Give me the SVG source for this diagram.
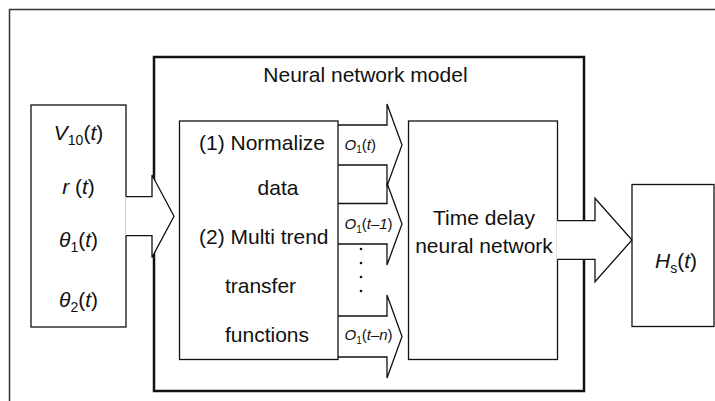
<svg xmlns="http://www.w3.org/2000/svg" width="715" height="401" viewBox="0 0 715 401">
<style>
.ln{fill:none;stroke:#111;stroke-width:1.3;stroke-linejoin:miter}
.box{fill:#fff;stroke:#111;stroke-width:1.3}
.thick{fill:#fff;stroke:#111;stroke-width:2.5}
.fillw{fill:#fff;stroke:none}
.t{font-family:"Liberation Sans",Arial,sans-serif;font-size:21px;fill:#111}
.lbl{font-size:15px}
.it{font-style:italic}
.dot{fill:#111}
</style>
<rect width="715" height="401" fill="#fff"/>
<g id="frame">
<path d="M9.5,401 V9.5 H715" fill="none" stroke="#333" stroke-width="1.5"/>
</g>
<g id="node-nn-model">
<rect class="thick" x="154" y="57" width="430" height="334"/>
<text class="t" x="263.3" y="81.5">Neural network model</text>
</g>
<g id="node-inputs">
<rect class="box" x="31" y="105" width="95" height="222"/>
<text class="t" x="78.5" y="140" text-anchor="middle"><tspan class="it">V</tspan><tspan font-size="14" dy="5">10</tspan><tspan dy="-5">(</tspan><tspan class="it">t</tspan>)</text>
<text class="t" x="78.5" y="194" text-anchor="middle"><tspan class="it">r</tspan> (<tspan class="it">t</tspan>)</text>
<text class="t" x="78.5" y="246.5" text-anchor="middle"><tspan class="it">θ</tspan><tspan font-size="14" dy="5">1</tspan><tspan dy="-5">(</tspan><tspan class="it">t</tspan>)</text>
<text class="t" x="78.5" y="306.5" text-anchor="middle"><tspan class="it">θ</tspan><tspan font-size="14" dy="5">2</tspan><tspan dy="-5">(</tspan><tspan class="it">t</tspan>)</text>
</g>
<g id="node-preprocess">
<rect class="box" x="179.5" y="121" width="158.5" height="238.5"/>
<text class="t" x="262" y="150" text-anchor="middle">(1) Normalize</text>
<text class="t" x="278" y="195" text-anchor="middle">data</text>
<text class="t" x="263.8" y="244" text-anchor="middle">(2) Multi trend</text>
<text class="t" x="260.5" y="293" text-anchor="middle">transfer</text>
<text class="t" x="267" y="341.7" text-anchor="middle">functions</text>
</g>
<g id="node-tdnn">
<rect class="box" x="408.5" y="121" width="149" height="238.5"/>
<text class="t" x="484" y="224.5" text-anchor="middle">Time delay</text>
<text class="t" x="484" y="252.7" text-anchor="middle">neural network</text>
</g>
<g id="node-output">
<rect class="box" x="632" y="184.5" width="82" height="142"/>
<text class="t" x="676" y="268.3" text-anchor="middle"><tspan class="it">H</tspan><tspan font-size="14" dy="5">s</tspan><tspan dy="-5">(</tspan><tspan class="it">t</tspan>)</text>
</g>
<g id="connectors">
<polygon class="fillw" points="125.3,196.7 152,196.7 152,175 174,216.2 152,257.4 152,235.7 125.3,235.7"/>
<polyline class="ln" points="126,196.7 152,196.7 152,175 174,216.2 152,257.4 152,235.7 126,235.7"/>
<polyline class="ln" points="338,125 387,125 387,104 402,145 387,186 387,165 338,165"/>
<polyline class="ln" points="338,203.5 387,203.5 387,183 402,224 387,265 387,244 338,244"/>
<polyline class="ln" points="338,316 387,316 387,295 402,336.5 387,378 387,357 338,357"/>
<polygon class="fillw" points="556.8,220.7 595,220.7 595,198.3 632,240 595,281.7 595,259.3 556.8,259.3"/>
<polyline class="ln" points="557.5,220.7 595,220.7 595,198.3 632,240 595,281.7 595,259.3 557.5,259.3"/>
<text class="t lbl" x="344.5" y="149.5"><tspan class="it">O</tspan><tspan font-size="10" dy="3.5">1</tspan><tspan dy="-3.5">(</tspan><tspan class="it">t</tspan>)</text>
<text class="t lbl" x="344.5" y="229"><tspan class="it">O</tspan><tspan font-size="10" dy="3.5">1</tspan><tspan dy="-3.5">(</tspan><tspan class="it">t–1</tspan>)</text>
<text class="t lbl" x="344.5" y="340"><tspan class="it">O</tspan><tspan font-size="10" dy="3.5">1</tspan><tspan dy="-3.5">(</tspan><tspan class="it">t–n</tspan>)</text>
<circle class="dot" cx="361" cy="249" r="1.3"/>
<circle class="dot" cx="361" cy="263" r="1.3"/>
<circle class="dot" cx="361" cy="277" r="1.3"/>
<circle class="dot" cx="361" cy="291" r="1.3"/>
</g>
</svg>
